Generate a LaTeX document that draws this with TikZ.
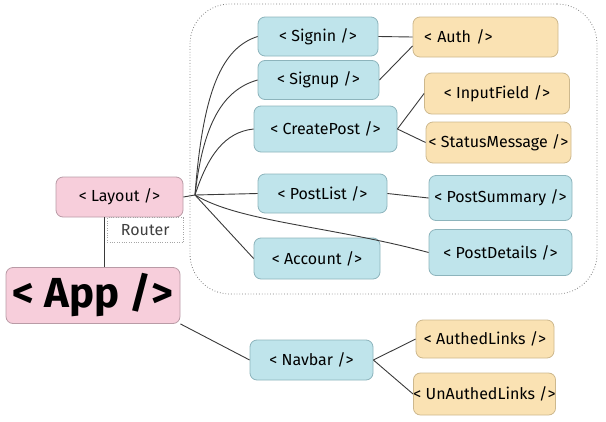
\documentclass[tikz,border=0pt]{standalone}
\usepackage{fontspec}
\newfontfamily\handfont{Fira Sans}
\definecolor{pinkfill}{HTML}{F7CEDB}
\definecolor{pinkline}{HTML}{B99BA6}
\definecolor{bluefill}{HTML}{BFE4EB}
\definecolor{blueline}{HTML}{8DB4BC}
\definecolor{yellowfill}{HTML}{FAE2B3}
\definecolor{yellowline}{HTML}{CDB88D}
\definecolor{edgegray}{HTML}{3A3A3A}
\begin{document}
\begin{tikzpicture}[x=1pt, y=-1pt,
  comp/.style={draw, rounded corners=7pt, line width=0.8pt, inner sep=0pt,
    font=\handfont\fontsize{16}{18}\selectfont},
  pagebox/.style={comp, fill=pinkfill, draw=pinkline},
  viewbox/.style={comp, fill=bluefill, draw=blueline},
  partbox/.style={comp, fill=yellowfill, draw=yellowline},
  edge/.style={draw=edgegray, line width=0.9pt}]
\useasboundingbox (0,0) rectangle (606,421);
% Groupe des routes
\node[draw=gray, dotted, line width=0.8pt, rounded corners=40pt,
  minimum width=407, minimum height=290] (group) at (393.5,149) {};
% Composants
\node[pagebox, minimum width=127, minimum height=40] (layout) at (119.5,197) {< Layout />};
\node[draw=gray!70, dotted, minimum width=76, minimum height=25, inner sep=0pt,
  text=black!75, font=\handfont\fontsize{16}{18}\selectfont, anchor=north east]
  (router) at (layout.south east) {Router};
\node[pagebox, minimum width=174, minimum height=56,
  font=\handfont\bfseries\fontsize{42}{44}\selectfont] (app) at (93,295.5) {< App />};
\node[viewbox, minimum width=120, minimum height=39] (signin) at (318,36.5) {< Signin />};
\node[viewbox, minimum width=121, minimum height=39] (signup) at (318.5,80) {< Signup />};
\node[viewbox, minimum width=143, minimum height=46] (createpost) at (325.5,129) {< CreatePost />};
\node[viewbox, minimum width=129, minimum height=39] (postlist) at (322.5,193.5) {< PostList />};
\node[viewbox, minimum width=126, minimum height=41] (account) at (317,258.5) {< Account />};
\node[partbox, minimum width=145, minimum height=40, text width=123, align=left] (auth) at (485.5,37) {< Auth />};
\node[partbox, minimum width=145, minimum height=41] (inputfield) at (497,93.5) {< InputField />};
\node[partbox, minimum width=145, minimum height=41] (statusmessage) at (498.5,142.5) {< StatusMessage />};
\node[viewbox, minimum width=143, minimum height=45] (postsummary) at (500.5,198) {< PostSummary />};
\node[viewbox, minimum width=143, minimum height=46] (postdetails) at (500.5,252.5) {< PostDetails />};
\node[viewbox, minimum width=123, minimum height=40] (navbar) at (311.5,360) {< Navbar />};
\node[partbox, minimum width=138, minimum height=38] (authedlinks) at (485,339) {< AuthedLinks />};
\node[partbox, minimum width=134, minimum height=42] (unauthedlinks) at (484.5,394) {< UnAuthedLinks />};
% Liens
\coordinate (fan) at (195,195);
\draw[edge] (layout.east) -- (fan);
\draw[edge] (fan) .. controls (203,90) and (222,48) .. (signin.west);
\draw[edge] (fan) .. controls (203,125) and (222,90) .. (signup.west);
\draw[edge] (fan) .. controls (208,155) and (225,132) .. (createpost.west);
\draw[edge] (fan) -- (postlist.west);
\draw[edge] (fan) .. controls (240,222) and (330,226) .. (postdetails.west);
\draw[edge] (fan) -- (account.west);
\draw[edge] (signin.east) -- (auth.west);
\draw[edge] (signup.east) -- (auth.187);
\draw[edge] (createpost.east) -- (inputfield.west);
\draw[edge] (createpost.east) -- (statusmessage.west);
\draw[edge] (postlist.east) -- (postsummary.west);
\draw[edge] (layout.234) -- (layout.234 |- app.north);
\draw[edge] (app.south east) -- (navbar.west);
\draw[edge] (navbar.east) -- (authedlinks.west);
\draw[edge] (navbar.east) -- (unauthedlinks.west);
\end{tikzpicture}
\end{document}
